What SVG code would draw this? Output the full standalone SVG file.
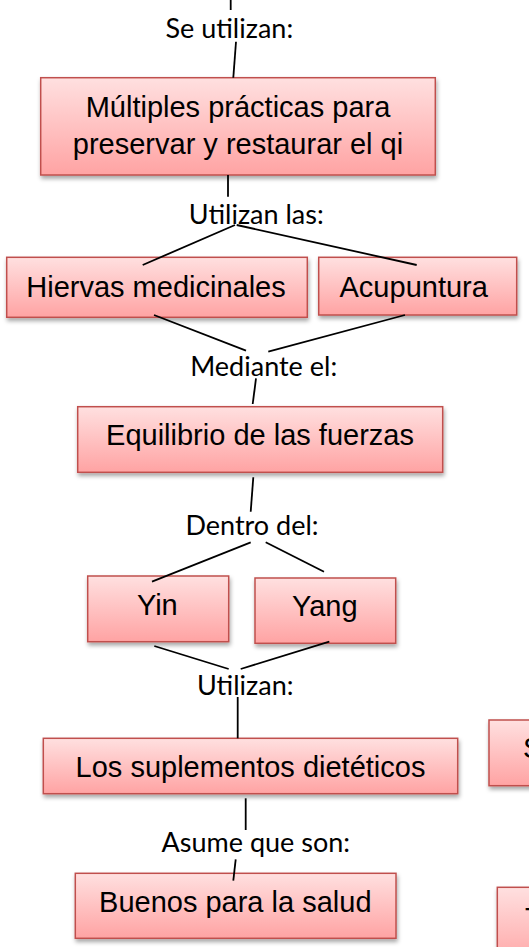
<svg xmlns="http://www.w3.org/2000/svg" width="529" height="947" viewBox="0 0 529 947">
<defs>
<linearGradient id="g" x1="0" y1="0" x2="0" y2="1">
<stop offset="0" stop-color="#FFE0E0"/>
<stop offset="1" stop-color="#FFA3A3"/>
</linearGradient>
<filter id="sh" x="-10%" y="-20%" width="125%" height="150%">
<feDropShadow dx="1" dy="3" stdDeviation="2" flood-color="#000" flood-opacity="0.35"/>
</filter>
</defs>
<style>
.box{fill:url(#g);stroke:#C0504D;stroke-width:1.5;filter:url(#sh)}
.t{font-family:"Liberation Sans",Arial,sans-serif;font-size:29px;fill:#000;text-anchor:middle}
.l{font-family:Lato,"Open Sans",sans-serif;font-size:27px;fill:#000;text-anchor:middle}
.c line{stroke:#000;stroke-width:1.8}
</style>
<rect width="529" height="947" fill="#fff"/>
<g id="lab-se"><text class="l" x="229.3" y="38">Se utilizan:</text></g>
<g id="n-multiples"><rect class="box" x="40.7" y="77.7" width="394.6" height="97.3"/><text class="t" x="238" y="116.7">Múltiples prácticas para</text><text class="t" x="238" y="154">preservar y restaurar el qi</text></g>
<g id="lab-utilizanlas"><text class="l" x="256.3" y="224">Utilizan las:</text></g>
<g id="n-hiervas"><rect class="box" x="6.7" y="257.3" width="300.6" height="60"/><text class="t" x="156" y="296.7">Hiervas medicinales</text></g>
<g id="n-acupuntura"><rect class="box" x="318.7" y="257.3" width="198" height="57.7"/><text class="t" x="413.7" y="296.7">Acupuntura</text></g>
<g id="lab-mediante"><text class="l" x="263.7" y="376">Mediante el:</text></g>
<g id="n-equilibrio"><rect class="box" x="77.7" y="406.7" width="365" height="65.6"/><text class="t" x="260" y="445">Equilibrio de las fuerzas</text></g>
<g id="lab-dentro"><text class="l" x="252" y="535">Dentro del:</text></g>
<g id="n-yin"><rect class="box" x="87.7" y="576" width="141" height="65.7"/><text class="t" x="157.3" y="615">Yin</text></g>
<g id="n-yang"><rect class="box" x="255" y="578" width="140.7" height="65.3"/><text class="t" x="324.8" y="615.5">Yang</text></g>
<g id="lab-utilizan"><text class="l" x="245.3" y="695">Utilizan:</text></g>
<g id="n-suplementos"><rect class="box" x="43.3" y="738.3" width="414.4" height="55.4"/><text class="t" x="250.5" y="777.3">Los suplementos dietéticos</text></g>
<g id="n-right1"><rect class="box" x="489" y="720" width="100" height="65.7"/><text class="t" x="523" y="758" style="text-anchor:start">S</text></g>
<g id="lab-asume"><text class="l" x="255.8" y="851.7">Asume que son:</text></g>
<g id="n-buenos"><rect class="box" x="75.3" y="873.3" width="320.7" height="65"/><text class="t" x="235.3" y="911.7">Buenos para la salud</text></g>
<g id="n-right2"><rect class="box" x="497.3" y="887.3" width="100" height="80"/><text class="t" x="525" y="928" style="text-anchor:start">T</text></g>
<g id="connectors" class="c">
<line x1="230.7" y1="0" x2="230.7" y2="10"/>
<line x1="236" y1="41.7" x2="233.3" y2="77.7"/>
<line x1="228" y1="175" x2="228" y2="196.7"/>
<line x1="235" y1="225" x2="142.7" y2="265"/>
<line x1="236.7" y1="225" x2="416.7" y2="265"/>
<line x1="154" y1="315" x2="246" y2="350.7"/>
<line x1="405" y1="315" x2="268.3" y2="351.7"/>
<line x1="256" y1="378.3" x2="252.7" y2="404"/>
<line x1="253.3" y1="477.3" x2="250.7" y2="511.7"/>
<line x1="250.7" y1="542.3" x2="152" y2="581.7"/>
<line x1="265.7" y1="542.3" x2="324" y2="571.7"/>
<line x1="154.3" y1="646" x2="228.7" y2="669"/>
<line x1="329.3" y1="641.7" x2="240.7" y2="669"/>
<line x1="237.7" y1="697" x2="237.7" y2="738.3"/>
<line x1="245.7" y1="798.3" x2="245.7" y2="830"/>
<line x1="235.7" y1="859.3" x2="233.3" y2="880.7"/>
</g>
</svg>
